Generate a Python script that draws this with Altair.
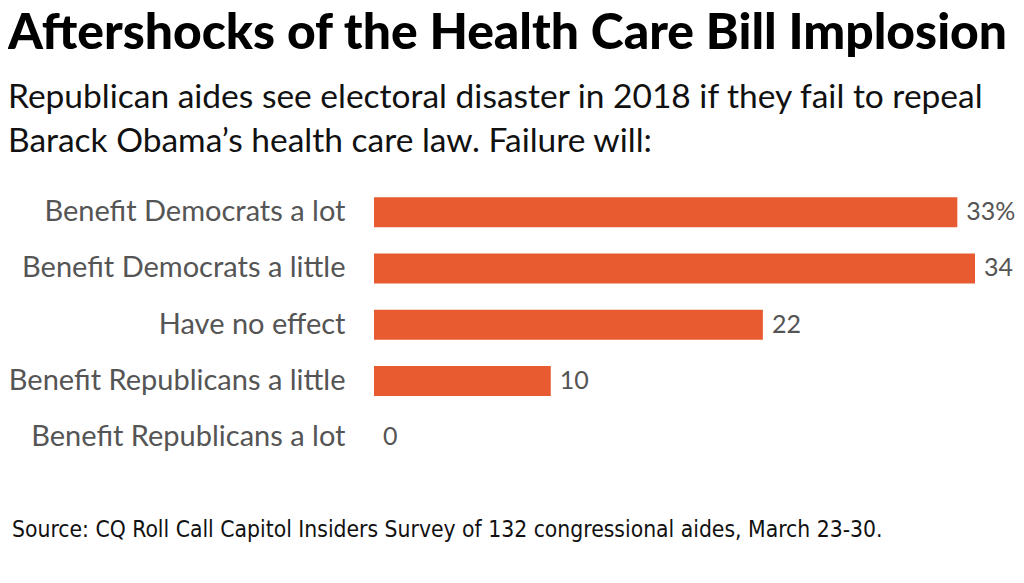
import altair as alt
import pandas as pd

categories = [
    "Benefit Democrats a lot",
    "Benefit Democrats a little",
    "Have no effect",
    "Benefit Republicans a little",
    "Benefit Republicans a lot",
]
values = [33, 34, 22, 10, 0]
value_labels = ["33%", "34", "22", "10", "0"]

TITLE = "Aftershocks of the Health Care Bill Implosion"
SUBTITLE = [
    "Republican aides see electoral disaster in 2018 if they fail to repeal",
    "Barack Obama\u2019s health care law. Failure will:",
]
SOURCE = "Source: CQ Roll Call Capitol Insiders Survey of 132 congressional aides, March 23-30."

df = pd.DataFrame({"category": categories, "value": values, "label": value_labels})
src_df = pd.DataFrame({"text": [SOURCE]})

FONT = "Lato"
BAR = "#E85B31"
GRAY = "#555555"

y_enc = alt.Y(
    "category:N",
    sort=categories,
    scale=alt.Scale(paddingInner=0.467, paddingOuter=0.2335),
    axis=alt.Axis(
        title=None,
        domain=False,
        ticks=False,
        labelFont=FONT,
        labelFontSize=29,
        labelColor=GRAY,
        labelPadding=29,
        labelLimit=500,
    ),
)
x_enc = alt.X(
    "value:Q",
    scale=alt.Scale(domain=[0, 34], nice=False, zero=True),
    axis=None,
)

bars = alt.Chart(df).mark_bar(color=BAR).encode(x=x_enc, y=y_enc)

labels = alt.Chart(df).mark_text(
    align="left", baseline="middle", dx=9, font=FONT, fontSize=25, color=GRAY
).encode(x=x_enc, y=y_enc, text="label:N")

source = alt.Chart(src_df).mark_text(
    align="left", baseline="alphabetic",
    font="'DejaVu Sans Condensed', 'Liberation Sans Narrow', Lato, sans-serif",
    fontSize=22.7, color="#111111"
).encode(x=alt.value(-362), y=alt.value(353), text="text:N")

chart = (
    alt.layer(bars, labels, source)
    .properties(
        width=601,
        height=281.5,
        autosize=alt.AutoSizeParams(type="none"),
        padding={"left": 366, "top": 176, "right": 41, "bottom": 109},
        title=alt.Title(
            text=TITLE,
            subtitle=SUBTITLE,
            anchor="start",
            frame="group",
            dx=-366,
            offset=25,
            font=FONT,
            fontSize=49.8,
            fontWeight=900,
            color="#000000",
            subtitleFont=FONT,
            subtitleFontSize=33.5,
            subtitleColor="#111111",
            subtitleLineHeight=44,
            subtitlePadding=22,
        ),
    )
    .configure_view(stroke=None)
)

chart.save("out.html", embed_options={"renderer": "svg", "actions": False})
